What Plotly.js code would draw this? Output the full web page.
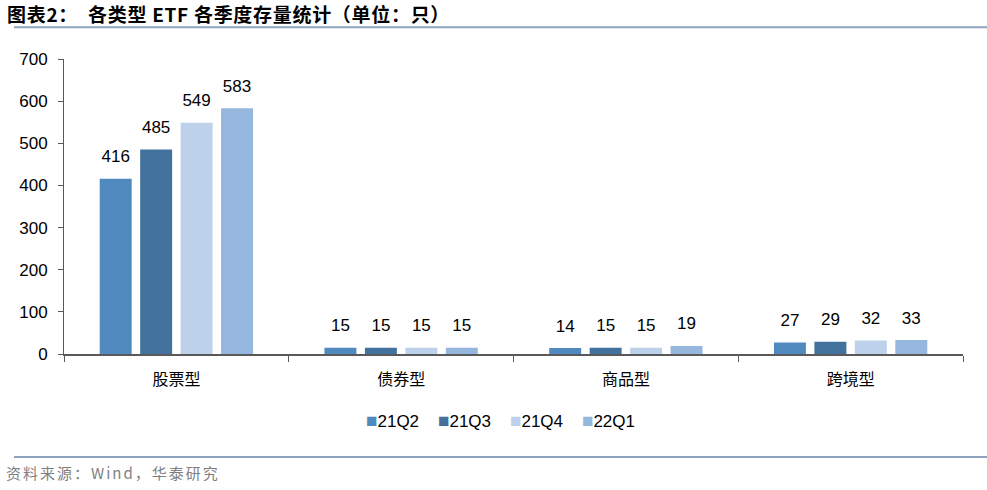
<!DOCTYPE html>
<html><head><meta charset="utf-8">
<script src="https://cdn.plot.ly/plotly-3.0.1.min.js"></script>
<style>body{margin:0;background:#fff}#c{width:987px;height:490px}</style>
</head><body><div id="c"></div>
<script>
const categories = ["股票型", "债券型", "商品型", "跨境型"];
const seriesNames = ["21Q2", "21Q3", "21Q4", "22Q1"];
const q21Q2 = [416, 15, 14, 27];
const q21Q3 = [485, 15, 15, 29];
const q21Q4 = [549, 15, 15, 32];
const q22Q1 = [583, 15, 19, 33];
const yTicks = [0, 100, 200, 300, 400, 500, 600, 700];
const colors = ["#4F89BD", "#41719C", "#BDD1EA", "#95B6DD"];
const values = [q21Q2, q21Q3, q21Q4, q22Q1];

const bars = values.map((v, i) => ({
  type: "bar", name: seriesNames[i], x: categories, y: v,
  offsetgroup: "g" + i,
  marker: {color: colors[i]},
  hoverinfo: "none", showlegend: false
}));
const labels = values.map((v, i) => ({
  type: "scatter", mode: "markers+text", x: categories, y: v,
  offsetgroup: "g" + i,
  marker: {size: 18, color: "rgba(0,0,0,0)"},
  text: v.map(String), textposition: "top center", cliponaxis: false,
  textfont: {family: "Liberation Sans, Arial, sans-serif", size: 17, color: "#000"},
  hoverinfo: "none", showlegend: false
}));

const legendText = seriesNames.map((n, i) =>
  '<span style="color:' + colors[i] + ';font-size:19px">■</span>' + n).join("&nbsp;&nbsp;&nbsp;&nbsp;");

const layout = {
  width: 987, height: 490,
  margin: {l: 64, r: 24, t: 59, b: 136},
  paper_bgcolor: "#fff", plot_bgcolor: "#fff",
  barmode: "group", bargap: 0.28, bargroupgap: 0.21,
  scattermode: "group", scattergap: 0.28,
  font: {family: "Liberation Sans, Arial, sans-serif", color: "#000"},
  showlegend: false,
  xaxis: {type: "category", showline: true, linecolor: "#595959", linewidth: 1.5,
    ticks: "outside", tickson: "boundaries", ticklen: 6, tickcolor: "#595959",
    ticklabelstandoff: 10,
    tickfont: {family: "Noto Sans CJK SC, sans-serif", size: 16, color: "#000"},
    showgrid: false, zeroline: false, fixedrange: true},
  yaxis: {range: [0, 700], tickvals: yTicks, showline: true, linecolor: "#595959", linewidth: 1,
    ticks: "outside", ticklen: 5, tickcolor: "#595959", ticklabelstandoff: 7,
    tickfont: {size: 17, color: "#000"}, showgrid: false, zeroline: false, fixedrange: true},
  shapes: [
    {type: "line", xref: "paper", yref: "paper", x0: -0.0556, x1: 1.03, y0: 1.108, y1: 1.108,
      line: {color: "#8EA3BE", width: 2}},
    {type: "line", xref: "paper", yref: "paper", x0: -0.0556, x1: 1.03, y0: -0.349, y1: -0.349,
      line: {color: "#8EA3BE", width: 2}}
  ],
  annotations: [
    {xref: "paper", yref: "paper", x: -0.0655, y: 1.155, xanchor: "left", yanchor: "middle",
      showarrow: false,
      text: '<span style="letter-spacing:0.7px"><b>图表2：&nbsp;&nbsp;各类型 ETF 各季度存量统计（单位：只）</b></span>',
      font: {family: "Noto Sans CJK SC, sans-serif", size: 19, color: "#000"}},
    {xref: "paper", yref: "paper", x: -0.067, y: -0.40, xanchor: "left", yanchor: "middle",
      showarrow: false, text: '<span style="letter-spacing:2px">资料来源：Wind，华泰研究</span>',
      font: {family: "Noto Sans CJK SC, sans-serif", size: 15, color: "#7F7F7F"}},
    {xref: "paper", yref: "paper", x: 0.485, y: -0.224, xanchor: "center", yanchor: "middle",
      showarrow: false, text: legendText,
      font: {family: "Liberation Sans, Arial, sans-serif", size: 17, color: "#000"}}
  ]
};
Plotly.newPlot("c", bars.concat(labels), layout, {displayModeBar: false, staticPlot: true});
</script></body></html>
